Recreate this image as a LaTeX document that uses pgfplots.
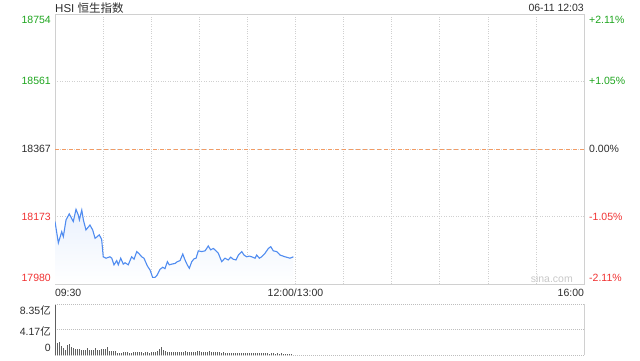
\documentclass[border=0pt]{standalone}
\usepackage{pgfplots}
\pgfplotsset{compat=1.18}
\usepackage{pgfplotstable}
\usepackage{fontspec}
\setmainfont{Liberation Sans}
\newfontfamily\cjk{Noto Sans CJK SC}
\definecolor{gridc}{RGB}{208,208,208}
\definecolor{vgridc}{RGB}{190,190,190}
\definecolor{framec}{RGB}{208,208,208}
\definecolor{upc}{RGB}{30,165,30}
\definecolor{dnc}{RGB}{240,50,50}
\definecolor{txt}{RGB}{45,45,45}
\definecolor{linec}{RGB}{80,140,240}
\definecolor{volc}{RGB}{95,95,95}
\definecolor{midc}{RGB}{242,155,100}
\definecolor{wm}{RGB}{200,200,200}
\newcommand{\dn}[2]{\raisebox{-#1}[\height][\depth]{#2}}
\newcommand{\up}[2]{\raisebox{#1}[\height][\depth]{#2}}

\pgfplotstableread{
t v
0 18159
2.1 18098
4.2 18130
5.2 18116
6.9 18164
8.9 18181
10.4 18168
11.4 18159
13.1 18194
14.5 18178
15.2 18164
16.7 18192
17.7 18164
19.3 18135
21.8 18149
23.5 18135
25.0 18111
26.4 18116
27.6 18121
29.1 18108
30.1 18058
31.8 18054
34.3 18058
35.4 18054
36.8 18035
38.5 18047
39.5 18035
41.0 18054
42.6 18037
43.7 18041
45.7 18035
47.8 18058
49.3 18051
51.0 18073
52.6 18066
54.1 18058
55.5 18054
57.6 18032
59.3 18020
60.9 17999
62.4 17999
63.8 18006
65.5 18022
67.2 18028
68.6 18024
70.1 18044
71.3 18035
72.8 18037
74.9 18039
76.3 18044
78.0 18047
79.7 18066
81.1 18049
82.5 18035
83.8 18025
85.3 18044
86.7 18052
88.0 18054
89.4 18075
91.5 18073
93.6 18075
95.6 18089
97.1 18078
98.8 18082
100.4 18075
101.9 18068
104.0 18044
106.0 18054
108.1 18049
109.6 18057
111.2 18051
112.9 18049
114.4 18063
115.4 18068
116.5 18073
117.9 18063
119.6 18058
121.2 18060
122.7 18058
124.8 18054
125.8 18063
127.5 18054
128.9 18058
131.0 18068
133.1 18082
134.6 18087
136.2 18075
138.3 18073
140.4 18063
143.5 18058
146.6 18054
148.7 18058
}\hsi

\pgfplotstableread{
t v
0 8.2
1.25 1.9
2.5 2.2
3.75 1.4
5 1.15
6.25 0.9
7.5 1.6
8.75 1.8
10 1.25
11.25 1.1
12.5 1.0
13.75 1.0
15 0.95
16.25 0.9
17.5 0.85
18.75 0.85
20 1.15
21.25 0.9
22.5 0.85
23.75 0.85
25 1.15
26.25 0.9
27.5 0.9
28.75 1.0
30 1.0
31.25 1.0
32.5 1.35
33.75 0.7
35 0.6
36.25 0.6
37.5 0.65
38.75 0.35
40 0.35
41.25 0.4
42.5 0.45
43.75 0.5
45 0.45
46.25 0.4
47.5 0.35
48.75 0.5
50 0.45
51.25 0.45
52.5 0.5
53.75 0.45
55 0.4
56.25 0.45
57.5 0.55
58.75 0.4
60 0.45
61.25 0.55
62.5 0.5
63.75 0.6
65 1.0
66.25 1.3
67.5 0.9
68.75 0.6
70 0.5
71.25 0.5
72.5 0.45
73.75 0.5
75 0.45
76.25 0.55
77.5 0.5
78.75 0.45
80 0.5
81.25 0.6
82.5 0.45
83.75 0.5
85 0.55
86.25 0.45
87.5 0.5
88.75 0.7
90 0.6
91.25 0.5
92.5 0.55
93.75 0.45
95 0.5
96.25 0.6
97.5 0.45
98.75 0.5
100 0.55
101.25 0.45
102.5 0.5
103.75 0.4
105 0.45
106.25 0.4
107.5 0.35
108.75 0.4
110 0.35
111.25 0.3
112.5 0.3
113.75 0.35
115 0.3
116.25 0.25
117.5 0.3
118.75 0.3
120 0.25
121.25 0.3
122.5 0.25
123.75 0.3
125 0.3
126.25 0.25
127.5 0.3
128.75 0.25
130 0.25
131.25 0.3
132.5 0.25
133.75 0.2
135 0.25
136.25 0.25
137.5 0.2
138.75 0.25
140 0.2
141.25 0.25
142.5 0.2
143.75 0.2
145 0.2
146.25 0.15
147.5 0.2
}\vol

\begin{document}
\begin{tikzpicture}[x=1pt,y=1pt]
\path[use as bounding box] (0,0) rectangle (640,360);
\pgfplotsset{
  every axis/.append style={
    scale only axis, anchor=south west,
    tick label style={font=\fontsize{10.5}{12}\selectfont, text=txt},
    major tick length=0pt,
    scaled ticks=false,
  }
}
% main price panel
\begin{axis}[
  at={(55pt,76pt)}, width=529pt, height=270pt,
  xmin=0, xmax=330, ymin=17980, ymax=18754,
  axis line style={framec, line width=1pt},
  xtick={0,30,...,330},
  xticklabels={\rlap{09:30},,,,,12:00/13:00,,,,,,\llap{16:00}},
  xticklabel style={anchor=north, inner sep=0pt, yshift=-5pt},
  ytick={17980,18173,18367,18561,18754},
  yticklabels={{\textcolor{dnc}{\up{6pt}{17980}}},{\textcolor{dnc}{18173}},{18367},{\textcolor{upc}{18561}},{\textcolor{upc}{\dn{6pt}{18754}}}},
  yticklabel style={anchor=east, inner sep=0pt, xshift=-4pt},
  ytick pos=left, xtick pos=bottom,
  xmajorgrids, ymajorgrids,
  grid style={gridc, line width=0.6pt, dash pattern=on 1pt off 1.4pt},
]
\addplot[draw=none, top color=linec!12, bottom color=white] table[x=t,y=v] {\hsi} |- (axis cs:0,17980) -- cycle;
\addplot[midc, line width=1pt, dash pattern=on 4pt off 3pt] coordinates {(0,18367) (330,18367)};
\addplot[linec, line width=1.1pt] table[x=t,y=v] {\hsi};
\end{axis}
% right percent labels
\begin{axis}[
  at={(55pt,76pt)}, width=529pt, height=270pt,
  xmin=0, xmax=330, ymin=17980, ymax=18754,
  xtick=\empty, xticklabels={},
  axis x line=none, axis y line*=right,
  axis line style={framec, line width=1pt},
  ytick={17980,18173,18367,18561,18754},
  yticklabels={{\textcolor{dnc}{\up{6pt}{-2.11\%}}},{\textcolor{dnc}{-1.05\%}},{0.00\%},{\textcolor{upc}{+1.05\%}},{\textcolor{upc}{\dn{6pt}{+2.11\%}}}},
  yticklabel style={anchor=west, inner sep=0pt, xshift=5pt},
]
\end{axis}
% volume panel
\begin{axis}[
  at={(55pt,5pt)}, width=529pt, height=51pt,
  xmin=0, xmax=330, ymin=0, ymax=8.35,
  xtick=\empty, xticklabels={},
  axis x line=none, axis y line=box,
  axis line style={framec, line width=1pt},
  ytick={0,4.17,8.35},
  yticklabels={{\up{7pt}{0}},{\dn{1.5pt}{4.17{\cjk 亿}}},{\dn{7pt}{8.35{\cjk 亿}}}},
  yticklabel style={anchor=east, inner sep=0pt, xshift=-4pt},
  ytick pos=left,
  ymajorgrids,
  grid style={vgridc, line width=1pt, dash pattern=on 1pt off 1pt},
]
\addplot[ycomb, volc, line width=1pt] table[x=t,y=v] {\vol};
\end{axis}
\node[anchor=base west, inner sep=0pt, text=txt, font=\fontsize{11.5}{13}\selectfont] at (55,348) {HSI {\cjk 恒生指数}};
\node[anchor=base east, inner sep=0pt, text=txt, font=\fontsize{10.5}{12}\selectfont] at (584,348.5) {06-11 12:03};
\node[anchor=base east, inner sep=0pt, text=wm, font=\fontsize{10.5}{12}\selectfont] at (573,78) {sina.com};
\end{tikzpicture}
\end{document}
